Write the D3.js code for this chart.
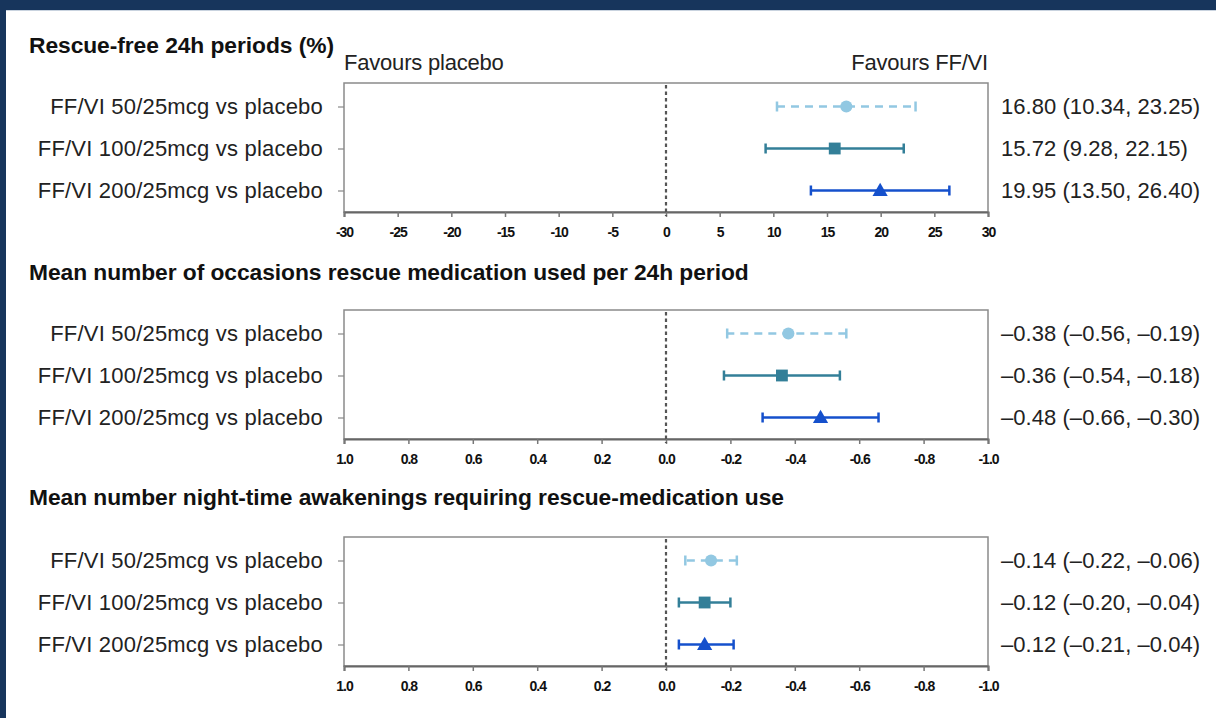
<!DOCTYPE html>
<html>
<head>
<meta charset="utf-8">
<script src="https://cdn.jsdelivr.net/npm/d3@7"></script>
<style>
  html, body { margin: 0; padding: 0; background: #fff; }
  svg { display: block; }
  text { font-family: "Liberation Sans", Arial, sans-serif; }
</style>
</head>
<body>
<svg id="chart" width="1216" height="718"></svg>
<script>
// Treatment comparisons (rows within each panel)
const categories = [
  "FF/VI 50/25mcg vs placebo",
  "FF/VI 100/25mcg vs placebo",
  "FF/VI 200/25mcg vs placebo"
];

// Panel titles
const panelTitles = [
  "Rescue-free 24h periods (%)",
  "Mean number of occasions rescue medication used per 24h period",
  "Mean number night-time awakenings requiring rescue-medication use"
];

// Rescue-free 24h periods (%): estimate, lower CI, upper CI
const rescueFreeEst = [16.80, 15.72, 19.95];
const rescueFreeLo  = [10.34, 9.28, 13.50];
const rescueFreeHi  = [23.25, 22.15, 26.40];

// Occasions rescue medication used per 24h
const occasionsEst = [-0.38, -0.36, -0.48];
const occasionsLo  = [-0.56, -0.54, -0.66];
const occasionsHi  = [-0.19, -0.18, -0.30];

// Night-time awakenings requiring rescue medication
const awakeningsEst = [-0.14, -0.12, -0.12];
const awakeningsLo  = [-0.22, -0.20, -0.21];
const awakeningsHi  = [-0.06, -0.04, -0.04];

// Axis ticks
const ticksPercent = [-30, -25, -20, -15, -10, -5, 0, 5, 10, 15, 20, 25, 30];
const ticksMean = [1.0, 0.8, 0.6, 0.4, 0.2, 0.0, -0.2, -0.4, -0.6, -0.8, -1.0];

// Tick labels use a plain hyphen for negatives
const fmtInt = v => (v < 0 ? "-" : "") + Math.abs(v).toFixed(0);
const fmtOne = v => (v < 0 ? "-" : "") + Math.abs(v).toFixed(1);

const panels = [
  { title: panelTitles[0], est: rescueFreeEst, lo: rescueFreeLo, hi: rescueFreeHi,
    domain: [-30, 30], ticks: ticksPercent, tickFmt: fmtInt,
    top: 83, titleY: 53, favours: true },
  { title: panelTitles[1], est: occasionsEst, lo: occasionsLo, hi: occasionsHi,
    domain: [1, -1], ticks: ticksMean, tickFmt: fmtOne,
    top: 310, titleY: 280 },
  { title: panelTitles[2], est: awakeningsEst, lo: awakeningsLo, hi: awakeningsHi,
    domain: [1, -1], ticks: ticksMean, tickFmt: fmtOne,
    top: 537, titleY: 505 }
];

const seriesColors = ["#92c8e2", "#337f98", "#1550cc"];
const seriesSymbols = [d3.symbolCircle, d3.symbolSquare, d3.symbolTriangle];
const seriesSizes = [115, 140, 100];

const svg = d3.select("#chart");
const W = 1216, H = 718;

// Frame
svg.append("rect").attr("x", 0).attr("y", 0).attr("width", W).attr("height", H).attr("fill", "#17355c");
svg.append("rect").attr("x", 6).attr("y", 10).attr("width", W - 6).attr("height", H - 10).attr("fill", "#ffffff");
svg.append("line").attr("x1", 6).attr("x2", W).attr("y1", 10.5).attr("y2", 10.5)
  .attr("stroke", "#c9d3df").attr("stroke-width", 1);

const plotLeft = 344, plotRight = 988, plotH = 129;

// Value label with typographic minus
const signed = v => (v < 0 ? "\u2013" : "") + Math.abs(v).toFixed(2);

panels.forEach(p => {
  const g = svg.append("g");
  const x = d3.scaleLinear().domain(p.domain).range([plotLeft, plotRight]);
  const y = d3.scalePoint().domain(categories).range([p.top + 23.5, p.top + plotH - 21.5]);

  // Title
  g.append("text").attr("x", 29).attr("y", p.titleY)
    .attr("font-size", 22.8).attr("font-weight", "bold").attr("fill", "#111")
    .attr("letter-spacing", -0.06)
    .text(p.title);

  if (p.favours) {
    g.append("text").attr("x", plotLeft).attr("y", p.top - 13)
      .attr("font-size", 22).attr("fill", "#222").attr("letter-spacing", -0.2).text("Favours placebo");
    g.append("text").attr("x", plotRight).attr("y", p.top - 13).attr("text-anchor", "end")
      .attr("font-size", 22).attr("fill", "#222").attr("letter-spacing", -0.2).text("Favours FF/VI");
  }

  // Plot box
  g.append("rect").attr("x", plotLeft).attr("y", p.top).attr("width", plotRight - plotLeft).attr("height", plotH)
    .attr("fill", "none").attr("stroke", "#8a8a8a").attr("stroke-width", 1.5);

  // Bottom axis
  const xAxis = d3.axisBottom(x).tickValues(p.ticks).tickFormat(p.tickFmt).tickSize(5).tickPadding(10);
  const ax = g.append("g").attr("transform", `translate(0,${p.top + plotH})`).call(xAxis);
  ax.select(".domain").attr("stroke", "#666").attr("stroke-width", 2);
  ax.selectAll(".tick line").attr("stroke", "#777").attr("stroke-width", 1.5);
  ax.selectAll(".tick text").attr("font-size", 14).attr("font-weight", "bold")
    .attr("fill", "#111").attr("letter-spacing", -1)
    .attr("font-family", "'Liberation Sans', Arial, sans-serif");

  // Left axis: category labels
  const yAxis = d3.axisLeft(y).tickSize(6).tickPadding(15);
  const ay = g.append("g").attr("transform", `translate(${plotLeft},0)`).call(yAxis);
  ay.select(".domain").remove();
  ay.selectAll(".tick line").attr("stroke", "#888").attr("stroke-width", 1.2);
  ay.selectAll(".tick text").attr("font-size", 22).attr("fill", "#222")
    .attr("letter-spacing", 0.2)
    .attr("font-family", "'Liberation Sans', Arial, sans-serif");

  // Zero reference line
  g.append("line").attr("x1", x(0)).attr("x2", x(0)).attr("y1", p.top + 2).attr("y2", p.top + plotH + 4)
    .attr("stroke", "#555").attr("stroke-width", 2.2).attr("stroke-dasharray", "3.5,3");

  // Error bars and markers
  categories.forEach((c, i) => {
    const yy = y(c);
    const col = seriesColors[i];
    g.append("line").attr("x1", x(p.lo[i])).attr("x2", x(p.hi[i])).attr("y1", yy).attr("y2", yy)
      .attr("stroke", col).attr("stroke-width", 2.5)
      .attr("stroke-dasharray", i === 0 ? "8,6" : null);
    [p.lo[i], p.hi[i]].forEach(v => {
      g.append("line").attr("x1", x(v)).attr("x2", x(v)).attr("y1", yy - 5).attr("y2", yy + 5)
        .attr("stroke", col).attr("stroke-width", 2.5);
    });
    g.append("path").attr("d", d3.symbol().type(seriesSymbols[i]).size(seriesSizes[i])())
      .attr("transform", `translate(${x(p.est[i])},${yy + (i === 2 ? 1 : 0)})`)
      .attr("fill", col);

    // Estimate and 95% CI
    g.append("text").attr("x", 1001).attr("y", yy).attr("dy", "0.35em")
      .attr("font-size", 22).attr("fill", "#222").attr("letter-spacing", 0.05)
      .text(`${signed(p.est[i])} (${signed(p.lo[i])}, ${signed(p.hi[i])})`);
  });
});
</script>
</body>
</html>
